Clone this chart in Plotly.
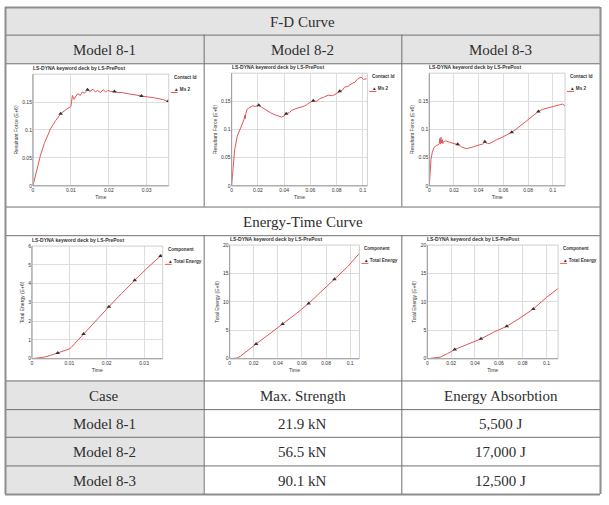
import plotly.graph_objects as go

# ---------------- data ----------------
models = ["Model 8-1", "Model 8-2", "Model 8-3"]
table_header = ["Case", "Max. Strength", "Energy Absorbtion"]
max_strength = ["21.9 kN", "56.5 kN", "90.1 kN"]
energy_absorption = ["5,500 J", "17,000 J", "12,500 J"]

# F-D curves (Time, Resultant Force E+6)
fd1_t = [0, 0.0005, 0.0012, 0.002, 0.003, 0.004, 0.0047, 0.006, 0.0073, 0.009, 0.0100, 0.0102, 0.0104,
         0.0108, 0.0112, 0.0118, 0.0125, 0.013, 0.0136, 0.0144, 0.015, 0.0158, 0.0165, 0.017, 0.0178,
         0.0185, 0.0192, 0.0197, 0.0205, 0.0215, 0.0224, 0.0235, 0.025, 0.0265, 0.0277, 0.029, 0.0304,
         0.0318, 0.033, 0.0345, 0.0358]
fd1_f = [0, 0.015, 0.035, 0.055, 0.076, 0.092, 0.103, 0.117, 0.129, 0.138, 0.142, 0.152, 0.162,
         0.155, 0.160, 0.165, 0.162, 0.168, 0.166, 0.172, 0.169, 0.173, 0.168, 0.171, 0.167,
         0.172, 0.168, 0.171, 0.169, 0.169, 0.167, 0.167, 0.165, 0.163, 0.162, 0.161, 0.159,
         0.158, 0.156, 0.154, 0.150]
fd1_mt = [0.0073, 0.0144, 0.0215, 0.0286, 0.0357]
fd1_mf = [0.129, 0.172, 0.169, 0.161, 0.152]

fd2_t = [0, 0.001, 0.0023, 0.0043, 0.0068, 0.0086, 0.0095, 0.0100, 0.0103, 0.0108, 0.0118, 0.013,
         0.0144, 0.016, 0.018, 0.0207, 0.0225, 0.0244, 0.027, 0.0295, 0.032, 0.0345, 0.0365, 0.038,
         0.040, 0.0416, 0.044, 0.0458, 0.049, 0.0534, 0.056, 0.0584, 0.0622, 0.065, 0.0673, 0.070,
         0.0736, 0.077, 0.080, 0.0824, 0.0845, 0.0861, 0.089, 0.0912, 0.094, 0.0962, 0.0987, 0.1005,
         0.103]
fd2_f = [0, 0.035, 0.064, 0.088, 0.102, 0.114, 0.118, 0.125, 0.119, 0.128, 0.136, 0.138,
         0.140, 0.142, 0.141, 0.143, 0.140, 0.137, 0.133, 0.130, 0.127, 0.125, 0.123, 0.122,
         0.124, 0.128, 0.130, 0.134, 0.137, 0.140, 0.142, 0.146, 0.151, 0.150, 0.155, 0.157,
         0.161, 0.160, 0.164, 0.168, 0.170, 0.175, 0.177, 0.181, 0.184, 0.190, 0.193, 0.189,
         0.190]
fd2_mt = [0.0207, 0.0416, 0.0622, 0.0824]
fd2_mf = [0.143, 0.128, 0.151, 0.168]

fd3_t = [0, 0.0005, 0.0014, 0.0024, 0.0038, 0.006, 0.0075, 0.0081, 0.0085, 0.009, 0.0095, 0.0100,
         0.0105, 0.011, 0.0114, 0.0125, 0.0135, 0.0154, 0.017, 0.019, 0.021, 0.023, 0.0245, 0.0262,
         0.028, 0.030, 0.032, 0.0345, 0.0357, 0.038, 0.041, 0.043, 0.045, 0.047, 0.049, 0.052,
         0.0546, 0.058, 0.062, 0.0668, 0.070, 0.0735, 0.077, 0.0816, 0.085, 0.0884, 0.092, 0.0951,
         0.098, 0.1005, 0.103, 0.106, 0.108, 0.110]
fd3_f = [0, 0.024, 0.047, 0.059, 0.068, 0.072, 0.073, 0.075, 0.084, 0.074, 0.086, 0.076,
         0.082, 0.075, 0.078, 0.079, 0.080, 0.078, 0.077, 0.076, 0.075, 0.074, 0.072, 0.069,
         0.067, 0.066, 0.067, 0.068, 0.069, 0.071, 0.072, 0.074, 0.078, 0.075, 0.075, 0.079,
         0.082, 0.085, 0.089, 0.095, 0.100, 0.106, 0.113, 0.121, 0.127, 0.132, 0.136, 0.138,
         0.140, 0.141, 0.143, 0.144, 0.145, 0.142]
fd3_mt = [0.023, 0.045, 0.0668, 0.0884]
fd3_mf = [0.074, 0.078, 0.095, 0.132]

# Energy-Time curves (Time, Total Energy E+6)
en1_t = [0, 0.002, 0.0034, 0.005, 0.0069, 0.0085, 0.010, 0.0105, 0.012, 0.0138, 0.017, 0.0206,
         0.024, 0.0275, 0.031, 0.0344, 0.035]
en1_e = [0, 0.03, 0.09, 0.18, 0.31, 0.42, 0.52, 0.60, 0.93, 1.32, 2.02, 2.77,
         3.48, 4.18, 4.86, 5.47, 5.56]
en1_mt = [0.0069, 0.0138, 0.0206, 0.0275, 0.0344]
en1_me = [0.31, 1.32, 2.77, 4.18, 5.47]

en2_t = [0, 0.004, 0.0063, 0.0091, 0.0132, 0.018, 0.022, 0.033, 0.044, 0.055, 0.0656, 0.076,
         0.087, 0.098, 0.1077]
en2_e = [0, 0.03, 0.12, 0.46, 1.16, 1.9, 2.6, 4.35, 6.1, 7.9, 9.74, 11.8, 14.0, 16.2, 18.55]
en2_mt = [0.022, 0.044, 0.0656, 0.087]
en2_me = [2.6, 6.1, 9.74, 14.0]

en3_t = [0, 0.005, 0.0111, 0.017, 0.023, 0.0333, 0.045, 0.0556, 0.0667, 0.0778, 0.0889, 0.1,
         0.1097]
en3_e = [0, 0.08, 0.29, 0.9, 1.63, 2.5, 3.5, 4.66, 5.71, 7.17, 8.75, 10.79, 12.36]
en3_mt = [0.023, 0.045, 0.0667, 0.0889]
en3_me = [1.63, 3.5, 5.71, 8.75]

# tick labels
fd1_xticks = [0, 0.01, 0.02, 0.03]
fd1_xlabels = ["0", "0.01", "0.02", "0.03"]
long_xticks = [0, 0.02, 0.04, 0.06, 0.08, 0.1]
long_xlabels = ["0", "0.02", "0.04", "0.06", "0.08", "0.1"]
fd_yticks = [0, 0.05, 0.1, 0.15]
fd_ylabels = ["0", "0.05", "0.1", "0.15"]
en1_yticks = [0, 1, 2, 3, 4, 5, 6]
en1_ylabels = ["0", "1", "2", "3", "4", "5", "6"]
en_yticks = [0, 5, 10, 15, 20]
en_ylabels = ["0", "5", "10", "15", "20"]

# ---------------- layout ----------------
W, H = 609, 505


def px(x):
    return x / W


def py(y):
    return 1 - y / H


COLS = [4, 203, 401, 600]
ROWS = [4, 32, 61, 206, 235, 382, 411, 439, 468, 497]
GRAY = "#e4e4e4"
LINE = "#6f6f6f"
SERIF = "Liberation Serif"
SANS = "Liberation Sans"
CURVE = "#e25555"
TEXT = "#2e2e2e"

fig = go.Figure()

plots = [
    dict(t=fd1_t, v=fd1_f, mt=fd1_mt, mv=fd1_mf, box=(32, 168, 72, 185), xmax=0.0358, ymax=0.2,
         xt=fd1_xticks, xl=fd1_xlabels, yt=fd_yticks, yl=fd_ylabels,
         ytitle="Resultant Force (E+6)", lg1="Contact Id", lg2="Ms 2"),
    dict(t=fd2_t, v=fd2_f, mt=fd2_mt, mv=fd2_mf, box=(231, 367, 71, 185), xmax=0.1035, ymax=0.2,
         xt=long_xticks, xl=long_xlabels, yt=fd_yticks, yl=fd_ylabels,
         ytitle="Resultant Force (E+6)", lg1="Contact Id", lg2="Ms 2"),
    dict(t=fd3_t, v=fd3_f, mt=fd3_mt, mv=fd3_mf, box=(429, 565, 71, 185), xmax=0.110, ymax=0.2,
         xt=long_xticks, xl=long_xlabels, yt=fd_yticks, yl=fd_ylabels,
         ytitle="Resultant Force (E+6)", lg1="Contact Id", lg2="Ms 2"),
    dict(t=en1_t, v=en1_e, mt=en1_mt, mv=en1_me, box=(31, 162, 246, 360), xmax=0.035, ymax=6,
         xt=fd1_xticks, xl=fd1_xlabels, yt=en1_yticks, yl=en1_ylabels,
         ytitle="Total Energy (E+6)", lg1="Component", lg2="Total Energy"),
    dict(t=en2_t, v=en2_e, mt=en2_mt, mv=en2_me, box=(229, 359, 245, 360), xmax=0.1077, ymax=20,
         xt=long_xticks, xl=long_xlabels, yt=en_yticks, yl=en_ylabels,
         ytitle="Total Energy (E+6)", lg1="Component", lg2="Total Energy"),
    dict(t=en3_t, v=en3_e, mt=en3_mt, mv=en3_me, box=(427, 558, 245, 360), xmax=0.1097, ymax=20,
         xt=long_xticks, xl=long_xlabels, yt=en_yticks, yl=en_ylabels,
         ytitle="Total Energy (E+6)", lg1="Component", lg2="Total Energy"),
]

shapes = []
annotations = []

# table backgrounds
shapes.append(dict(type="rect", xref="paper", yref="paper", x0=px(COLS[0]), x1=px(COLS[3]),
                   y0=py(ROWS[2]), y1=py(ROWS[0]), fillcolor=GRAY, line_width=0, layer="below"))
shapes.append(dict(type="rect", xref="paper", yref="paper", x0=px(COLS[0]), x1=px(COLS[1]),
                   y0=py(ROWS[9]), y1=py(ROWS[5]), fillcolor=GRAY, line_width=0, layer="below"))

# horizontal lines
for i, r in enumerate(ROWS):
    outer = i in (0, len(ROWS) - 1)
    shapes.append(dict(type="line", xref="paper", yref="paper", x0=px(COLS[0]), x1=px(COLS[3]),
                       y0=py(r + 0.5), y1=py(r + 0.5),
                       line=dict(color="#8e8e8e" if outer else LINE, width=2 if outer else 1)))
# outer verticals
for c in (COLS[0], COLS[3]):
    shapes.append(dict(type="line", xref="paper", yref="paper", x0=px(c + 0.5), x1=px(c + 0.5),
                       y0=py(ROWS[0]), y1=py(ROWS[-1]), line=dict(color="#8e8e8e", width=2)))
# inner verticals
for c in (COLS[1], COLS[2]):
    for a, b in ((ROWS[1], ROWS[3]), (ROWS[4], ROWS[9])):
        shapes.append(dict(type="line", xref="paper", yref="paper", x0=px(c + 0.5), x1=px(c + 0.5),
                           y0=py(a), y1=py(b), line=dict(color=LINE, width=1)))


def cell_text(text, c0, c1, r0, r1, size=15):
    annotations.append(dict(text=text, xref="paper", yref="paper", x=px((c0 + c1) / 2),
                            y=py((r0 + r1) / 2 + 1), xanchor="center", yanchor="middle",
                            showarrow=False, font=dict(family=SERIF, size=size, color=TEXT)))


cell_text("F-D Curve", COLS[0], COLS[3], ROWS[0], ROWS[1])
for j, m in enumerate(models):
    cell_text(m, COLS[j], COLS[j + 1], ROWS[1], ROWS[2])
cell_text("Energy-Time Curve", COLS[0], COLS[3], ROWS[3], ROWS[4])
for j, hname in enumerate(table_header):
    cell_text(hname, COLS[j], COLS[j + 1], ROWS[5], ROWS[6])
for i, m in enumerate(models):
    cell_text(m, COLS[0], COLS[1], ROWS[6 + i], ROWS[7 + i])
    cell_text(max_strength[i], COLS[1], COLS[2], ROWS[6 + i], ROWS[7 + i])
    cell_text(energy_absorption[i], COLS[2], COLS[3], ROWS[6 + i], ROWS[7 + i])

small = dict(family=SANS, size=5, color="#333")
legend_font = dict(family=SANS, size=4.6, color="#333")

for k, p in enumerate(plots, start=1):
    x0, x1, y0, y1 = p["box"]
    xa = "x" if k == 1 else f"x{k}"
    ya = "y" if k == 1 else f"y{k}"
    fig.add_trace(go.Scatter(x=p["t"], y=p["v"], mode="lines", line=dict(color=CURVE, width=1),
                             xaxis=xa, yaxis=ya, showlegend=False, hoverinfo="skip"))
    fig.add_trace(go.Scatter(x=p["mt"], y=p["mv"], mode="markers",
                             marker=dict(symbol="triangle-up", size=4, color="#333"),
                             xaxis=xa, yaxis=ya, showlegend=False, hoverinfo="skip"))
    axis_common = dict(showgrid=True, gridcolor="#dedede", gridwidth=1, zeroline=False,
                       showline=False, ticks="", tickfont=small, fixedrange=True)
    fig.layout[f"xaxis{k}"] = dict(domain=[px(x0), px(x1)], range=[0, p["xmax"]], anchor=ya,
                                   tickvals=p["xt"], ticktext=p["xl"],
                                   title=dict(text="Time", font=small, standoff=3), **axis_common)
    fig.layout[f"yaxis{k}"] = dict(domain=[py(y1), py(y0)], range=[0, p["ymax"]], anchor=xa,
                                   tickvals=p["yt"], ticktext=p["yl"],
                                   title=dict(text=p["ytitle"], font=small, standoff=3), **axis_common)
    # frame
    shapes.append(dict(type="rect", xref=f"{xa} domain", yref=f"{ya} domain", x0=0, x1=1, y0=0, y1=1,
                       line=dict(color="#cfcfcf", width=1), fillcolor="rgba(0,0,0,0)"))
    shapes.append(dict(type="line", xref=f"{xa} domain", yref=f"{ya} domain", x0=0, x1=0, y0=0, y1=1,
                       line=dict(color="#9a9a9a", width=1)))
    shapes.append(dict(type="line", xref=f"{xa} domain", yref=f"{ya} domain", x0=0, x1=1, y0=0, y1=0,
                       line=dict(color="#9a9a9a", width=1)))
    # title
    annotations.append(dict(text="<b>LS-DYNA keyword deck by LS-PrePost</b>", xref="paper", yref="paper",
                            x=px(x0 - 2), y=py(y0 - 1), xanchor="left", yanchor="bottom",
                            showarrow=False, font=small))
    # legend
    annotations.append(dict(text="<b>" + p["lg1"] + "</b>", xref="paper", yref="paper",
                            x=px(x1 + 3), y=py(y0 + 3), xanchor="left", yanchor="middle",
                            showarrow=False, font=legend_font))
    annotations.append(dict(text="<b>▲ " + p["lg2"] + "</b>", xref="paper", yref="paper",
                            x=px(x1 + 3), y=py(y0 + 16), xanchor="left", yanchor="middle",
                            showarrow=False, font=legend_font))
    shapes.append(dict(type="line", xref="paper", yref="paper", x0=px(x1 + 2), x1=px(x1 + 9),
                       y0=py(y0 + 18.5), y1=py(y0 + 18.5), line=dict(color=CURVE, width=1)))

fig.update_layout(width=W, height=H, margin=dict(l=0, r=0, t=0, b=0), paper_bgcolor="white",
                  plot_bgcolor="white", showlegend=False, shapes=shapes, annotations=annotations)

fig.write_html("out.html", config={"displayModeBar": False},
               post_script="document.body.style.margin='0';document.body.style.overflow='hidden';")
